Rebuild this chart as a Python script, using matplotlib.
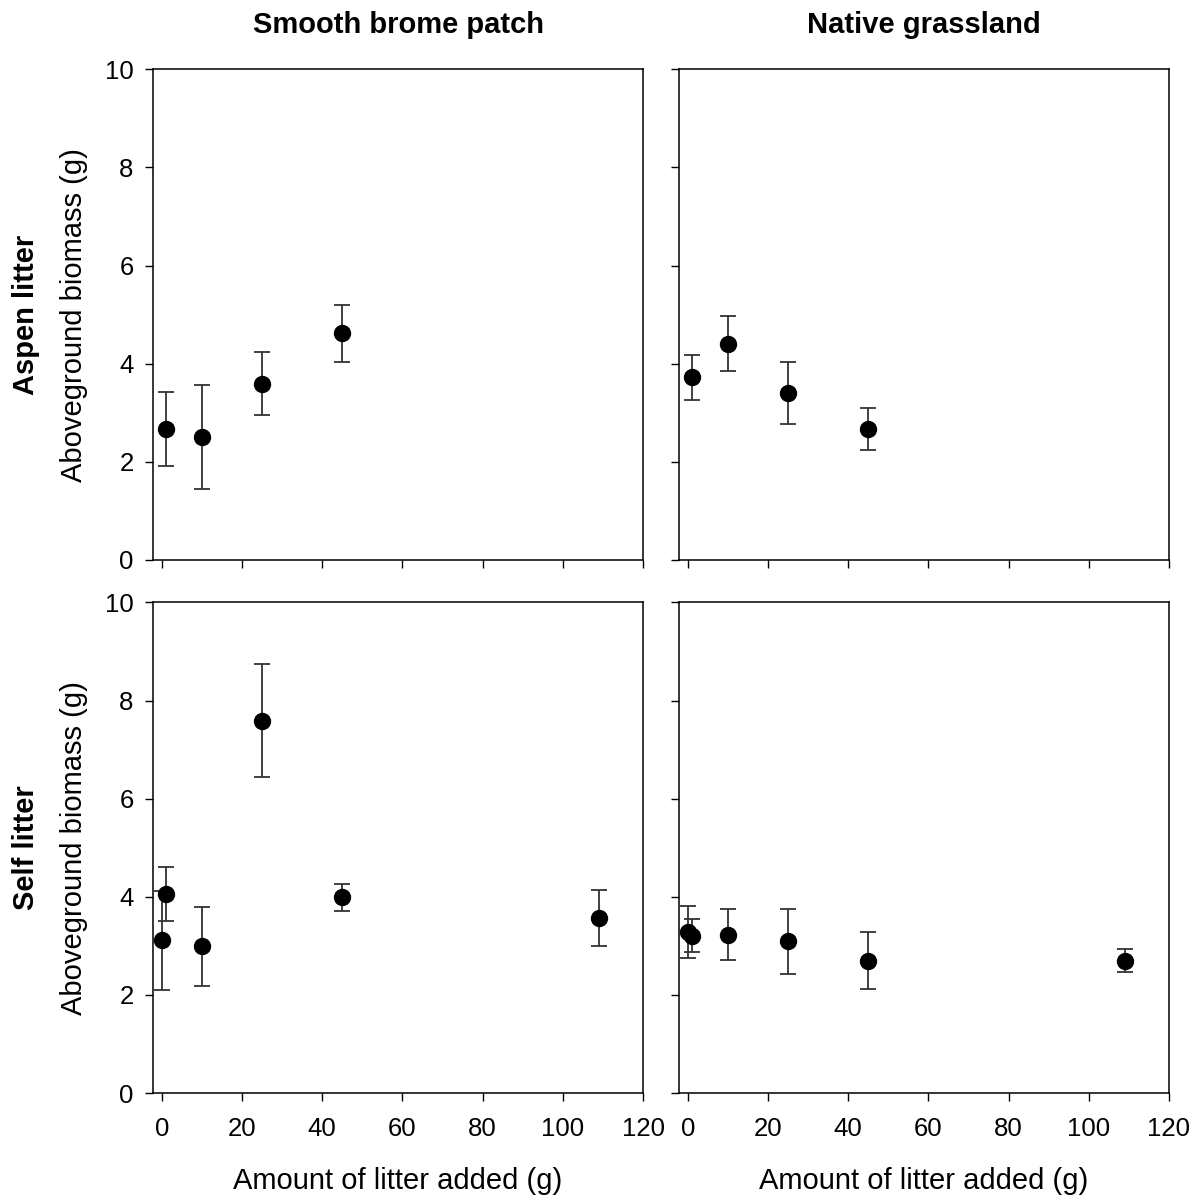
import numpy as np
import matplotlib.pyplot as plt

plt.rcParams['font.family'] = ['Liberation Sans', 'DejaVu Sans']

# litter added (g), mean biomass (g) and standard error per panel
aspen_brome_x = [1, 10, 25, 45]
aspen_brome_y = [2.67, 2.50, 3.59, 4.62]
aspen_brome_se = [0.76, 1.06, 0.64, 0.58]

aspen_native_x = [1, 10, 25, 45]
aspen_native_y = [3.72, 4.41, 3.41, 2.67]
aspen_native_se = [0.45, 0.56, 0.63, 0.43]

self_brome_x = [0, 1, 10, 25, 45, 109]
self_brome_y = [3.11, 4.06, 2.99, 7.59, 3.99, 3.56]
self_brome_se = [1.00, 0.55, 0.80, 1.15, 0.28, 0.57]

self_native_x = [0, 1, 10, 25, 45, 109]
self_native_y = [3.29, 3.21, 3.23, 3.09, 2.70, 2.70]
self_native_se = [0.53, 0.33, 0.52, 0.67, 0.58, 0.23]

col_titles = ['Smooth brome patch', 'Native grassland']
row_titles = ['Aspen litter', 'Self litter']
xticks = [0, 20, 40, 60, 80, 100, 120]
yticks = [0, 2, 4, 6, 8, 10]

panels = [
    [(aspen_brome_x, aspen_brome_y, aspen_brome_se),
     (aspen_native_x, aspen_native_y, aspen_native_se)],
    [(self_brome_x, self_brome_y, self_brome_se),
     (self_native_x, self_native_y, self_native_se)],
]

fig = plt.figure(figsize=(11.97, 11.98), dpi=100)
lefts = [0.1278, 0.5672]
bottoms = [0.5326, 0.0876]
w, h = 0.4094, 0.4095

for r in range(2):
    for c in range(2):
        ax = fig.add_axes([lefts[c], bottoms[r], w, h])
        x, y, se = panels[r][c]
        ax.errorbar(x, y, yerr=se, fmt='o', color='black', ms=11.5,
                    ecolor='#333333', elinewidth=1.3, capsize=5.5, capthick=1.3)
        ax.set_xlim(-2.2, 120)
        ax.set_ylim(0, 10)
        ax.set_xticks(xticks)
        ax.set_yticks(yticks)
        ax.tick_params(direction='out', length=6, width=1, labelsize=18.5)
        ax.tick_params(axis='x', pad=11)
        ax.tick_params(axis='y', pad=8)
        for s in ax.spines.values():
            s.set_linewidth(1.1)
        if r == 0:
            ax.set_xticklabels([])
            ax.set_title(col_titles[c], fontsize=21, fontweight='bold', pad=26)
        else:
            ax.set_xlabel('Amount of litter added (g)', fontsize=21, labelpad=19)
        if c == 1:
            ax.set_yticklabels([])
        else:
            ax.set_ylabel('Aboveground biomass (g)', fontsize=21)
            ax.yaxis.set_label_coords(-0.133, 0.5)
            ax.text(-0.259, 0.5, row_titles[r], transform=ax.transAxes,
                    rotation=90, ha='center', va='center',
                    fontsize=21, fontweight='bold')

fig.savefig('out.png', dpi=100)
